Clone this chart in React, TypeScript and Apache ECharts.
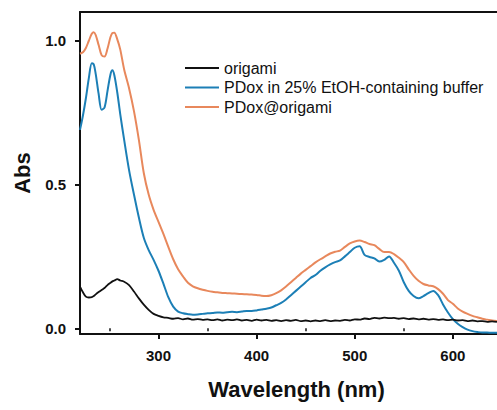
import React, { useEffect, useRef } from "react";
import * as echarts from "echarts";

const wavelengths = [
  220, 223, 226, 229, 232, 234, 236, 239, 242, 245, 248, 251, 253, 255, 258, 261,
  265, 270, 275, 280, 285, 290, 295, 300, 305, 310, 315, 320, 325, 330, 335, 340,
  345, 350, 355, 360, 365, 370, 375, 380, 385, 390, 395, 400, 405, 410, 415, 420,
  425, 430, 435, 440, 445, 450, 455, 460, 465, 470, 475, 480, 485, 490, 495, 500,
  505, 510, 515, 520, 525, 530, 535, 540, 545, 550, 555, 560, 565, 570, 575, 580,
  585, 590, 595, 600, 605, 610, 615, 620, 625, 630, 635, 640, 645,
];

const origami = [
  0.145, 0.125, 0.11, 0.107, 0.108, 0.112, 0.118, 0.126, 0.133, 0.14, 0.15, 0.158, 0.163, 0.166, 0.171, 0.166,
  0.162, 0.15, 0.128, 0.104, 0.082, 0.064, 0.05, 0.043, 0.038, 0.036, 0.033, 0.035, 0.031, 0.034, 0.03, 0.032,
  0.029, 0.031, 0.028, 0.031, 0.027, 0.03, 0.028, 0.031, 0.027, 0.029, 0.026, 0.03, 0.027, 0.029, 0.026, 0.028,
  0.025, 0.028, 0.026, 0.029, 0.025, 0.027, 0.024, 0.027, 0.025, 0.028, 0.025, 0.027, 0.026, 0.029, 0.027, 0.031,
  0.03, 0.034, 0.032, 0.036, 0.034, 0.037, 0.035, 0.036, 0.033, 0.035, 0.032, 0.034, 0.031, 0.033, 0.03, 0.032,
  0.029, 0.031, 0.028, 0.03, 0.027, 0.028, 0.025, 0.027, 0.024, 0.025, 0.022, 0.024, 0.022,
];

const pdoxBuffer = [
  0.69, 0.74, 0.8, 0.87, 0.922, 0.918, 0.885, 0.815, 0.76, 0.768, 0.825, 0.882, 0.897, 0.88, 0.82, 0.745,
  0.655, 0.55, 0.465, 0.385, 0.315, 0.272, 0.238, 0.2, 0.155, 0.108, 0.075, 0.058, 0.052, 0.049, 0.047, 0.048,
  0.05, 0.052, 0.053, 0.055, 0.054, 0.056, 0.057, 0.056, 0.058, 0.06, 0.06, 0.062, 0.065, 0.068, 0.072, 0.08,
  0.088, 0.1, 0.115, 0.13, 0.145, 0.16, 0.175, 0.185, 0.2, 0.212, 0.222, 0.23, 0.236, 0.25, 0.265, 0.28,
  0.285, 0.255, 0.248, 0.243, 0.232, 0.238, 0.25, 0.228, 0.2, 0.16, 0.13, 0.112, 0.104, 0.112, 0.122, 0.13,
  0.115, 0.083, 0.055, 0.032, 0.016, 0.004, -0.005, -0.01, -0.013, -0.015, -0.015, -0.016, -0.016,
];

const pdoxOrigami = [
  0.955, 0.96, 0.975, 1.0, 1.024, 1.03, 1.02, 0.985, 0.95, 0.945, 0.972, 1.012, 1.027, 1.028, 1.005, 0.97,
  0.9, 0.835, 0.755, 0.655, 0.54, 0.465, 0.412, 0.37, 0.328, 0.283, 0.24, 0.205, 0.18, 0.158, 0.146, 0.139,
  0.134, 0.13, 0.127, 0.125, 0.123, 0.122, 0.121, 0.12, 0.119, 0.118, 0.117, 0.116, 0.113, 0.112, 0.115, 0.122,
  0.132, 0.145, 0.16, 0.175, 0.19, 0.203, 0.216, 0.229, 0.24, 0.25, 0.26, 0.266, 0.27, 0.283, 0.295, 0.302,
  0.305, 0.3, 0.293, 0.289, 0.276, 0.265, 0.265, 0.258, 0.245, 0.23, 0.205, 0.182, 0.165, 0.154, 0.149, 0.146,
  0.136, 0.12, 0.098, 0.085, 0.069, 0.058, 0.05, 0.043, 0.038, 0.033, 0.03, 0.027, 0.025,
];

const seriesNames = ["origami", "PDox in 25% EtOH-containing buffer", "PDox@origami"];
const seriesColors = ["#111111", "#1c7fb6", "#e8885c"];
const xLabelValues = [300, 400, 500, 600];
const xMinorValues = [250, 350, 450, 550];
const yLabelValues = [0, 0.5, 1.0];

const FONT = "Arial, 'Liberation Sans', Helvetica, sans-serif";

export default function App() {
  const ref = useRef<HTMLDivElement>(null);
  useEffect(() => {
    document.body.style.margin = "0";
    if (!ref.current) return;
    const chart = echarts.init(ref.current, undefined, { renderer: "svg" });
    const pairs = (vals: number[]) => wavelengths.map((w, i) => [w, vals[i]]);
    const allSeries = [origami, pdoxBuffer, pdoxOrigami];
    const xMin = 220;
    const xMax = 645;
    chart.setOption({
      animation: false,
      backgroundColor: "#ffffff",
      grid: { left: 80, top: 12, right: 0, bottom: 76 },
      legend: {
        orient: "vertical",
        left: 184,
        top: 60,
        padding: 0,
        itemWidth: 34,
        itemHeight: 14,
        itemGap: 3.5,
        itemStyle: { opacity: 0 },
        textStyle: { fontFamily: FONT, fontSize: 16, color: "#111", lineHeight: 14 },
        data: seriesNames,
      },
      xAxis: [
        {
          type: "value",
          min: xMin,
          max: xMax,
          name: "Wavelength (nm)",
          nameLocation: "middle",
          nameGap: 44,
          nameTextStyle: {
            fontFamily: FONT,
            fontSize: 22,
            fontWeight: "bold",
            color: "#111",
            padding: [0, 0, 0, 16],
          },
          axisLine: { show: true, onZero: false, lineStyle: { color: "#111", width: 2 } },
          axisTick: {
            show: true,
            length: 5,
            inside: false,
            customValues: xLabelValues,
            lineStyle: { color: "#111", width: 2 },
          },
          axisLabel: {
            customValues: xLabelValues,
            margin: 14,
            fontFamily: FONT,
            fontSize: 15,
            fontWeight: "bold",
            color: "#111",
          },
          splitLine: { show: false },
        },
        {
          type: "value",
          min: xMin,
          max: xMax,
          position: "bottom",
          gridIndex: 0,
          axisLine: { show: false },
          axisTick: {
            show: true,
            length: 3,
            customValues: xMinorValues,
            lineStyle: { color: "#111", width: 1.5 },
          },
          axisLabel: { show: false },
          splitLine: { show: false },
        },
        {
          type: "value",
          min: xMin,
          max: xMax,
          position: "top",
          gridIndex: 0,
          axisLine: { show: true, onZero: false, lineStyle: { color: "#111", width: 2 } },
          axisTick: { show: false },
          axisLabel: { show: false },
          splitLine: { show: false },
        },
      ],
      yAxis: {
        type: "value",
        min: -0.02,
        max: 1.1,
        name: "Abs",
        nameLocation: "middle",
        nameGap: 47,
        nameTextStyle: { fontFamily: FONT, fontSize: 22, fontWeight: "bold", color: "#111" },
        axisLine: { show: true, onZero: false, lineStyle: { color: "#111", width: 2 } },
        axisTick: {
          show: true,
          length: 5,
          customValues: yLabelValues,
          lineStyle: { color: "#111", width: 2 },
        },
        axisLabel: {
          customValues: yLabelValues,
          margin: 14,
          fontFamily: FONT,
          fontSize: 15,
          fontWeight: "bold",
          color: "#111",
          formatter: (v: number) => v.toFixed(1),
        },
        splitLine: { show: false },
      },
      series: allSeries.map((vals, i) => ({
        name: seriesNames[i],
        type: "line",
        xAxisIndex: 0,
        data: pairs(vals),
        symbol: "none",
        smooth: 0.3,
        color: seriesColors[i],
        lineStyle: { color: seriesColors[i], width: i === 0 ? 1.8 : 2 },
        z: 3 - i,
      })),
    });
    return () => chart.dispose();
  }, []);
  return <div ref={ref} style={{ width: 497, height: 410 }} />;
}
